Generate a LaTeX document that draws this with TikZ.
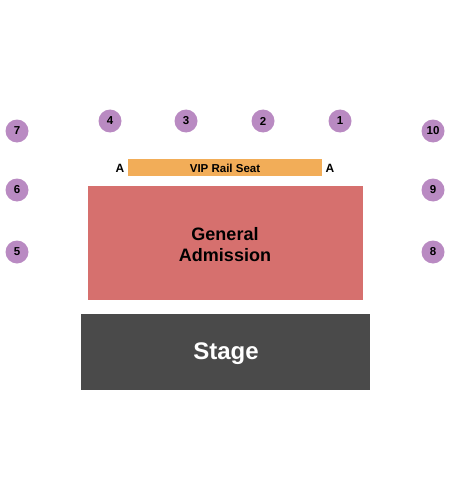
\documentclass[tikz,border=0pt]{standalone}
\usepackage{fontspec}
\setmainfont{Liberation Sans}
\usetikzlibrary{positioning}
\definecolor{seatpurple}{HTML}{B98AC2}
\definecolor{railorange}{HTML}{F2AD58}
\definecolor{gared}{HTML}{D6706E}
\definecolor{stagegray}{HTML}{4A4A4A}
\tikzset{
  table/.style={circle, fill=seatpurple, minimum size=23pt, inner sep=0pt, font=\bfseries\fontsize{11.5}{11.5}\selectfont},
  rowlabel/.style={font=\bfseries\fontsize{12}{12}\selectfont}
}
\begin{document}
\begin{tikzpicture}[x=1pt, y=-1pt]
    % frame
    \useasboundingbox (0,0) rectangle (450,500);
    % tables
    \node[table] (t7) at (17,131) {7};
    \node[table] (t4) at (110,121) {4};
    \node[table] (t3) at (186,121) {3};
    \node[table] (t2) at (263,121) {2};
    \node[table] (t1) at (340,121) {1};
    \node[table] (t10) at (433,131) {10};
    \node[table] (t6) at (17,190) {6};
    \node[table] (t9) at (433,190) {9};
    \node[table] (t5) at (17,252) {5};
    \node[table] (t8) at (433,252) {8};
    % vip rail
    \path[fill=railorange] (128,159) rectangle (322,176);
    \node[font=\bfseries\fontsize{11.5}{11.5}\selectfont] (vip) at (225,168) {VIP Rail Seat};
    \node[rowlabel] (al) at (120,168) {A};
    \node[rowlabel] (ar) at (330,168) {A};
    % general admission
    \path[fill=gared] (88,186) rectangle (363,300);
    \node[font=\bfseries\fontsize{18}{21}\selectfont, align=center] (ga) at (225,245) {General\\Admission};
    % stage
    \path[fill=stagegray] (81,314) rectangle (370,390);
    \node[font=\bfseries\fontsize{24}{24}\selectfont, text=white] (stage) at (226,354) {Stage};
\end{tikzpicture}
\end{document}
